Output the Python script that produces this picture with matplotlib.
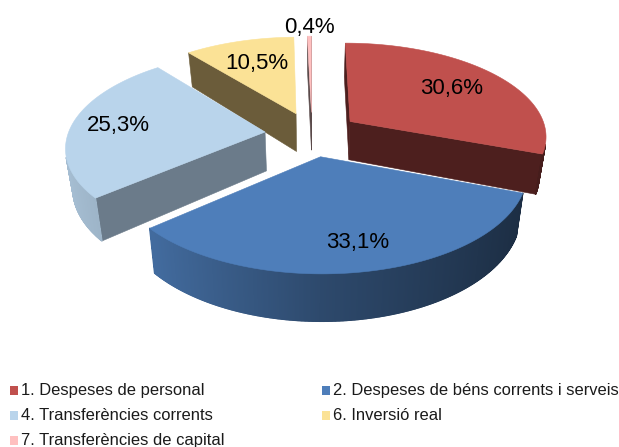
import numpy as np
import matplotlib
matplotlib.use('Agg')
import matplotlib.pyplot as plt
from matplotlib.collections import PolyCollection
from matplotlib.patches import Polygon, Rectangle

plt.rcParams['font.family'] = ['Liberation Sans', 'DejaVu Sans']

categories = ['1. Despeses de personal', '2. Despeses de béns corrents i serveis',
              '4. Transferències corrents', '6. Inversió real',
              '7. Transferències de capital']
values = [30.6, 33.1, 25.3, 10.5, 0.4]
value_labels = ['30,6%', '33,1%', '25,3%', '10,5%', '0,4%']
top_colors = ['#c0504d', '#4e7eba', '#b9d4eb', '#fbe296', '#ffc0c0']
cut_colors = ['#4d1f1e', '#2f4d73', '#6b7b8a', '#6b5c3a', '#5a4a4a']
label_radius = [0.69, 0.78, 0.76, 0.67, 1.13]
label_turn = [0, -1.5, 0, 0, 0]

# pie geometry in figure pixels
X0, Y0 = 312, 134
RX, RY, PERSP = 197, 93, 0.144
EXPLODE = 0.24
DEPTH = 39
SHRINK = 0.97


def project(x, y):
    s = 1 / (1 - PERSP * y)
    return X0 + RX * x * s, Y0 + RY * y * s


def bottom(px, py, y):
    s = 1 / (1 - PERSP * y)
    return X0 + (px - X0) * SHRINK, py + DEPTH * s


def shade(color, x):
    f = np.interp(x, [-1, -0.75, 0, 0.76, 1], [0.9, 0.85, 0.58, 0.4, 0.35])
    return tuple(c * f for c in matplotlib.colors.to_rgb(color))


def signed_area(quad):
    q = np.array(quad)
    a, b = q[:, 0], q[:, 1]
    return np.sum(a * np.roll(b, -1) - np.roll(a, -1) * b)


def make_quad(p1, p2):
    b1 = bottom(*project(*p1), p1[1])
    b2 = bottom(*project(*p2), p2[1])
    return [project(*p1), project(*p2), b2, b1]


fig = plt.figure(figsize=(6.19, 4.47), dpi=100)
ax = fig.add_axes([0, 0, 1, 1])
ax.set_xlim(0, 619)
ax.set_ylim(447, 0)
ax.axis('off')

edges = np.radians(np.cumsum([0] + values) / sum(values) * 360)
slices = []
for i in range(len(values)):
    t0, t1 = edges[i], edges[i + 1]
    mid = (t0 + t1) / 2
    slices.append((-np.cos(mid), i, t0, t1, mid))

labels = []
for _, i, t0, t1, mid in sorted(slices):
    cx, cy = EXPLODE * np.sin(mid), -EXPLODE * np.cos(mid)
    theta = np.linspace(t0, t1, max(4, int(np.degrees(t1 - t0) * 3)))
    arc = [(cx + np.sin(t), cy - np.cos(t)) for t in theta]
    apex = (cx, cy)

    # flat cut faces
    for p1, p2 in [(apex, arc[0]), (arc[-1], apex)]:
        quad = make_quad(p1, p2)
        if signed_area(quad) < 0:
            ax.add_patch(Polygon(quad, closed=True, fc=cut_colors[i],
                                 ec=cut_colors[i], lw=0.4))

    # curved outer wall, one narrow quad per step so it can carry the gradient
    quads, colors = [], []
    for k in range(len(arc) - 1):
        quad = make_quad(arc[k], arc[k + 1])
        if signed_area(quad) < 0:
            quads.append(quad)
            colors.append(shade(top_colors[i], np.sin((theta[k] + theta[k + 1]) / 2)))
    if quads:
        ax.add_collection(PolyCollection(quads, facecolors=colors, edgecolors=colors,
                                         linewidths=1.0))

    top = [project(*p) for p in [apex] + arc]
    ax.add_patch(Polygon(top, closed=True, fc=top_colors[i], ec=top_colors[i], lw=0.4))

    r = label_radius[i]
    lm = mid + np.radians(label_turn[i])
    labels.append((project(cx + r * np.sin(lm), cy - r * np.cos(lm)), value_labels[i]))

for (lx, ly), text in labels:
    ax.text(lx, ly, text, fontsize=16, color='black', ha='center', va='center')

# legend, filled row by row like the original
col_x = [10, 322]
row_y = [390, 415, 440]
for i, name in enumerate(categories):
    x, y = col_x[i % 2], row_y[i // 2]
    ax.add_patch(Rectangle((x, y - 4.5), 8, 9, fc=top_colors[i], ec='none'))
    ax.text(x + 11, y, name, fontsize=11.9, color='#1a1a1a', ha='left', va='center')

fig.savefig('out.png', dpi=100)
